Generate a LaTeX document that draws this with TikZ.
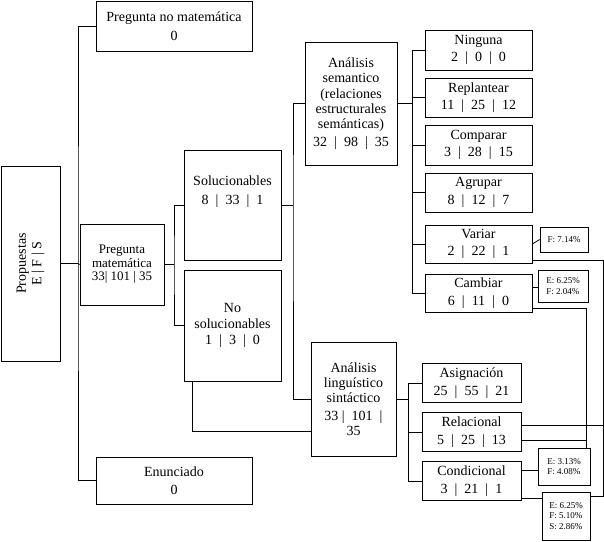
\documentclass[tikz,border=0pt]{standalone}
\usepackage{fontspec}
\setmainfont{Liberation Serif}
\begin{document}
\begin{tikzpicture}[x=1pt,y=-1pt,
  box/.style={draw,thick,inner sep=0pt,align=center,font=\fontsize{14}{15.5}\selectfont},
  ann/.style={draw,thick,inner sep=0pt,align=left,font=\fontsize{9}{10.5}\selectfont},
  ln/.style={thick}]
\useasboundingbox (0,0) rectangle (604,541);
\node[box,minimum width=59,minimum height=195] (prop) at (30.5,263.5) {\rotatebox{90}{\begin{tabular}{c}Propuestas\\E | F | S\end{tabular}}};
\node[box,minimum width=156,minimum height=50] (pnm) at (174,26) {Pregunta no matemática\\[3pt]0};
\node[box,minimum width=156,minimum height=47] (enu) at (174,480.5) {Enunciado\\[3pt]0};
\node[box,minimum width=84,minimum height=81,font=\fontsize{13}{13.5}\selectfont] (pm) at (122,264.5) {Pregunta\\matemática\\33| 101 | 35};
\node[box,minimum width=97,minimum height=110] (sol) at (232.5,205) {Solucionables\\[3pt]8 \ | \ 33 \ | \ 1\\[14pt]};
\node[box,minimum width=97,minimum height=111] (nsol) at (232.5,325.5) {No\\solucionables\\[1pt]1 \ | \ 3 \ | \ 0};
\node[box,minimum width=92,minimum height=123,font=\fontsize{14}{15.3}\selectfont] (sem) at (351,103.5) {Análisis\\semantico\\(relaciones\\estructurales\\semánticas)\\[2pt]32 \ | \ 98 \ | \ 35};
\node[box,minimum width=85,minimum height=114,font=\fontsize{14}{15}\selectfont] (lin) at (353.5,399) {Análisis\\linguístico\\sintáctico\\[3pt]33 | \ 101 \ |\\35};
\foreach \n/\t/\v/\y/\h in {nin/Ninguna/2 \ | \ 0 \ | \ 0/50/40, rep/Replantear/11 \ | \ 25 \ | \ 12/97.5/39, com/Comparar/3 \ | \ 28 \ | \ 15/145/40, agr/Agrupar/8 \ | \ 12 \ | \ 7/192.5/39, var/Variar/2 \ | \ 22 \ | \ 1/244/38, cam/Cambiar/6 \ | \ 11 \ | \ 0/293/38}
  \node[box,minimum width=107,minimum height=\h] (\n) at (478.5,\y) {\t\\[2pt]\v};
\foreach \n/\t/\v/\y in {asi/Asignación/25 \ | \ 55 \ | \ 21/383, rel/Relacional/5 \ | \ 25 \ | \ 13/432, con/Condicional/3 \ | \ 21 \ | \ 1/481}
  \node[box,minimum width=99,minimum height=39] (\n) at (471.5,\y) {\t\\[2pt]\v};
\node[ann,minimum width=48,minimum height=25] (a1) at (564,239.5) {F: 7.14\%};
\node[ann,minimum width=50,minimum height=32] (a2) at (563,286) {E: 6.25\%\\F: 2.04\%};
\node[ann,minimum width=52,minimum height=37] (a3) at (564,466.5) {E: 3.13\%\\F: 4.08\%};
\node[ann,minimum width=48,minimum height=48] (a4) at (566,516) {E: 6.25\%\\F: 5.10\%\\S: 2.86\%};
% trunks
\draw[ln] (prop.east) -- (78,263.5);
\draw[ln] (pnm.west) -| (78,263.5) |- (enu.west);
\draw[ln] (78,263.5) -- (pm.west);
\draw[ln] (pm.east) -- (174,264.5);
\draw[ln] (sol.west) -| (174,264.5) |- (nsol.west);
\draw[ln] (sol.east) -- (293,205);
\draw[ln] (sem.west) -| (293,205) |- (lin.west);
\draw[ln] (nsol.south -| 192,0) |- (lin.west |- 0,431);
\draw[ln] (sem.east) -- (412,103.5);
\foreach \n in {nin,rep,com,agr,var,cam} \draw[ln] (412,103.5) |- (\n.west);
\draw[ln] (lin.east) -- (408,399);
\foreach \n in {asi,rel,con} \draw[ln] (408,399) |- (\n.west);
% annotations
\draw[ln] (var.east) -- (a1.west);
\draw[ln] (cam.east |- 0,287) -- (a2.west |- 0,287);
\draw[ln] (con.east |- 0,470) -- (a3.west |- 0,470);
\draw[ln] (con.east |- 0,498) -- (a4.west |- 0,498);
\draw[ln] (var.east |- 0,260) -| (603,496) -- (a4.east |- 0,496);
\draw[ln] (rel.east |- 0,425) -- (603,425);
\draw[ln] (cam.east |- 0,308) -| (586,448);
\draw[ln] (rel.east |- 0,440) -- (586,440);
\end{tikzpicture}
\end{document}
